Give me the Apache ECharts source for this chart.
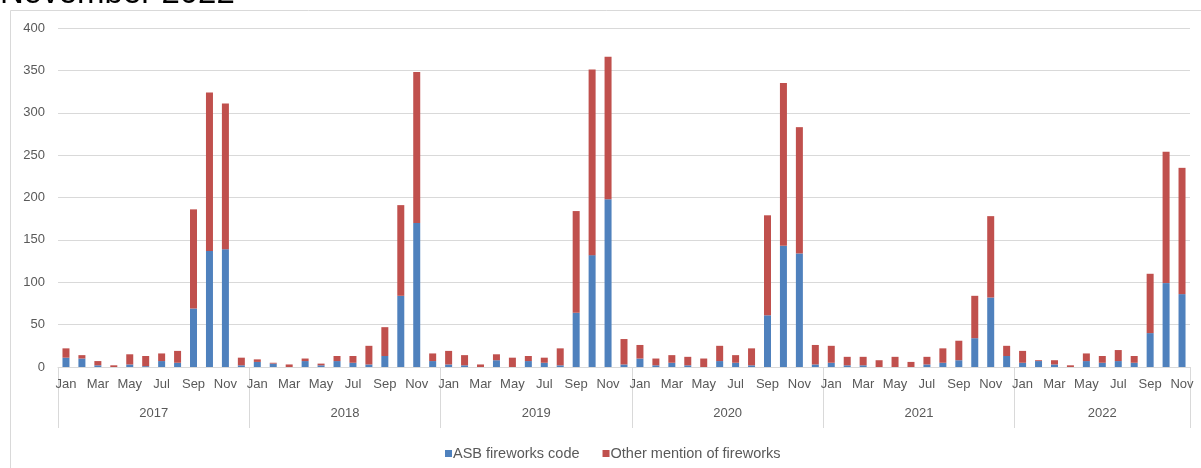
<!DOCTYPE html>
<html>
<head>
<meta charset="utf-8">
<script src="https://cdn.jsdelivr.net/npm/echarts@6/dist/echarts.min.js"></script>
<style>
  html, body { margin: 0; padding: 0; background: #ffffff; }
  #chart { width: 1201px; height: 468px; }
</style>
</head>
<body>
<div id="chart"></div>
<script>
// ---- data ----
var years = ['2017', '2018', '2019', '2020', '2021', '2022'];
var monthsPerYear = [12, 12, 12, 12, 12, 11];
var monthNames = ['Jan', 'Feb', 'Mar', 'Apr', 'May', 'Jun', 'Jul', 'Aug', 'Sep', 'Oct', 'Nov', 'Dec'];
var yTicks = [0, 50, 100, 150, 200, 250, 300, 350, 400];

var asbFireworksCode = [
  11, 10, 2, 0, 3, 1, 7, 5, 69, 137, 139, 2,
  6, 4, 0, 7, 2, 7, 5, 3, 13, 84, 170, 7,
  3, 2, 0, 8, 0, 7, 5, 2, 64, 132, 198, 3,
  10, 2, 5, 2, 0, 7, 5, 2, 61, 143, 134, 3,
  5, 2, 2, 0, 0, 0, 3, 5, 8, 34, 82, 13,
  5, 7, 3, 0, 7, 5, 7, 5, 40, 99, 86
];
var otherMention = [
  11, 4, 5, 2, 12, 12, 9, 14, 117, 187, 172, 9,
  3, 1, 3, 3, 2, 6, 8, 22, 34, 107, 178, 9,
  16, 12, 3, 7, 11, 6, 6, 20, 120, 219, 168, 30,
  16, 8, 9, 10, 10, 18, 9, 20, 118, 192, 149, 23,
  20, 10, 10, 8, 12, 6, 9, 17, 23, 50, 96, 12,
  14, 1, 5, 2, 9, 8, 13, 8, 70, 155, 149
];

// ---- derived axes ----
var categories = [];
years.forEach(function (y, i) {
  for (var m = 0; m < monthsPerYear[i]; m++) categories.push(monthNames[m] + ' ' + y);
});
var nMonths = categories.length;
// half-month grid for the year level (boundaryGap false)
var halfSteps = [];
for (var k = 0; k <= nMonths * 2; k++) halfSteps.push('');
var boundarySet = {}, labelSet = {};
var acc = 0;
boundarySet[0] = true;
years.forEach(function (y, i) {
  var center = acc * 2 + monthsPerYear[i];
  halfSteps[center] = y;
  labelSet[center] = true;
  acc += monthsPerYear[i];
  boundarySet[acc * 2] = true;
});

var chart = echarts.init(document.getElementById('chart'), null, { renderer: 'canvas' });
var gray = '#595959';
var lineGray = '#d9d9d9';

chart.setOption({
  animation: false,
  backgroundColor: '#ffffff',
  textStyle: { fontFamily: 'Liberation Sans, Arial, sans-serif' },
  graphic: [
    {
      type: 'rect',
      shape: { x: 10.5, y: 10.5, width: 1200, height: 470 },
      style: { fill: 'none', stroke: lineGray, lineWidth: 1 },
      silent: true
    },
    {
      type: 'text',
      x: 0,
      y: 10,
      style: {
        text: 'November 2022',
        fill: '#000000',
        font: '33px "Liberation Sans", Arial, sans-serif',
        align: 'left',
        verticalAlign: 'bottom'
      },
      silent: true
    }
  ],
  grid: { left: 58, right: 11, top: 28, bottom: 101, containLabel: false },
  legend: {
    data: ['ASB fireworks code', 'Other mention of fireworks'],
    left: 440,
    top: 441,
    icon: 'rect',
    itemWidth: 7,
    itemHeight: 7,
    itemGap: 23,
    textStyle: { color: gray, fontSize: 14.5, padding: [0, 0, 0, -4] }
  },
  xAxis: [
    {
      type: 'category',
      data: categories,
      position: 'bottom',
      axisLine: { show: true, lineStyle: { color: lineGray, width: 1 } },
      axisTick: { show: false },
      axisLabel: {
        interval: 1,
        margin: 11,
        color: gray,
        fontSize: 13,
        formatter: function (v) { return v.split(' ')[0]; }
      },
      splitLine: { show: false }
    },
    {
      type: 'category',
      data: halfSteps,
      boundaryGap: false,
      position: 'bottom',
      offset: 0,
      axisLine: { show: false },
      axisTick: {
        show: true,
        length: 61,
        interval: function (idx) { return !!boundarySet[idx]; },
        lineStyle: { color: lineGray, width: 1 }
      },
      axisLabel: {
        interval: function (idx) { return !!labelSet[idx]; },
        margin: 40,
        color: gray,
        fontSize: 13,
        showMinLabel: true,
        showMaxLabel: true
      },
      splitLine: { show: false }
    }
  ],
  yAxis: {
    type: 'value',
    min: yTicks[0],
    max: yTicks[yTicks.length - 1],
    interval: yTicks[1] - yTicks[0],
    axisLine: { show: false },
    axisTick: { show: false },
    axisLabel: { color: gray, fontSize: 13, margin: 13 },
    splitLine: { lineStyle: { color: lineGray, width: 1 } }
  },
  series: [
    {
      name: 'ASB fireworks code',
      type: 'bar',
      stack: 'total',
      xAxisIndex: 0,
      barWidth: 7,
      itemStyle: { color: '#4f81bd' },
      data: asbFireworksCode
    },
    {
      name: 'Other mention of fireworks',
      type: 'bar',
      stack: 'total',
      xAxisIndex: 0,
      barWidth: 7,
      itemStyle: { color: '#c0504d' },
      data: otherMention
    }
  ]
});
</script>
</body>
</html>
